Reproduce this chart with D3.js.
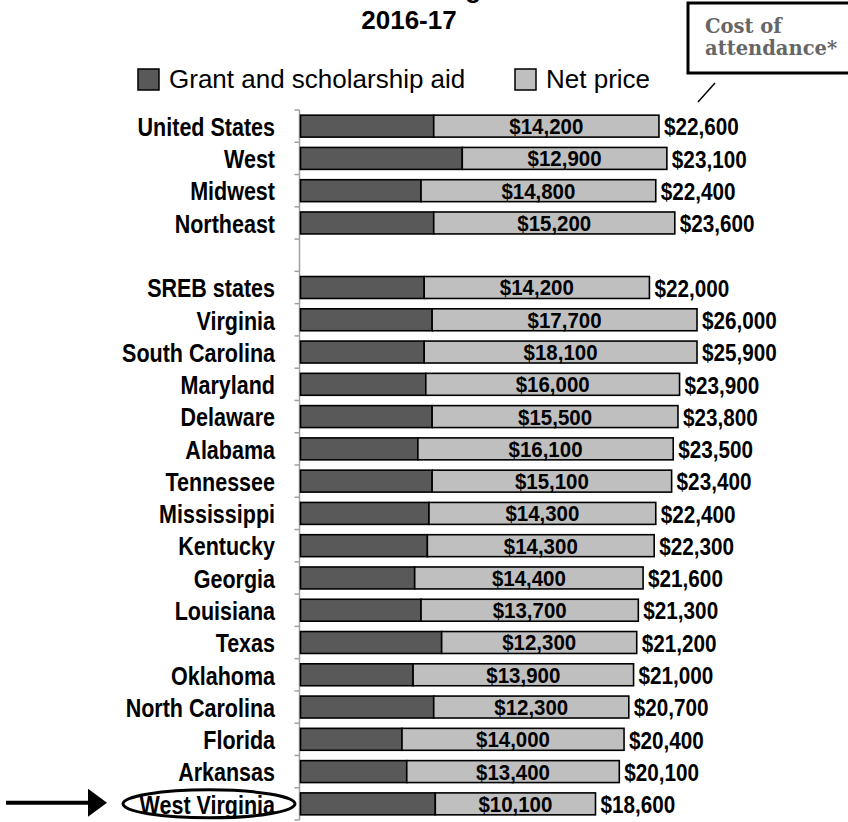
<!DOCTYPE html>
<html>
<head>
<meta charset="utf-8">
<script src="https://cdn.jsdelivr.net/npm/d3@7"></script>
<style>
  body { margin: 0; background: #fff; overflow: hidden; }
  svg { display: block; font-family: "Liberation Sans", Arial, sans-serif; }
</style>
</head>
<body>
<svg id="chart" width="848" height="822"></svg>
<script>
// empty string = the gap row between regions and SREB states
const categories = ["United States", "West", "Midwest", "Northeast", "",
  "SREB states", "Virginia", "South Carolina", "Maryland", "Delaware", "Alabama",
  "Tennessee", "Mississippi", "Kentucky", "Georgia", "Louisiana", "Texas",
  "Oklahoma", "North Carolina", "Florida", "Arkansas", "West Virginia"];

const grantAid = [8400, 10200, 7600, 8400, null,
  7800, 8300, 7800, 7900, 8300, 7400,
  8300, 8100, 8000, 7200, 7600, 8900,
  7100, 8400, 6400, 6700, 8500];

const netPrice = [14200, 12900, 14800, 15200, null,
  14200, 17700, 18100, 16000, 15500, 16100,
  15100, 14300, 14300, 14400, 13700, 12300,
  13900, 12300, 14000, 13400, 10100];

const costOfAttendance = [22600, 23100, 22400, 23600, null,
  22000, 26000, 25900, 23900, 23800, 23500,
  23400, 22400, 22300, 21600, 21300, 21200,
  21000, 20700, 20400, 20100, 18600];

const legendLabels = ["Grant and scholarship aid", "Net price"];
const titleLines = ["Net Price for Undergraduates", "2016-17"];
const calloutLines = ["Cost of", "attendance*"];
const highlighted = "West Virginia";

const darkFill = "#595959";
const lightFill = "#bfbfbf";

const svg = d3.select("#chart");
const money = d3.format("$,");

// squeeze text sideways, the reference uses a narrow face
function narrow(sel, factor) {
  sel.each(function() {
    const w = this.getComputedTextLength();
    d3.select(this)
      .attr("textLength", w * factor)
      .attr("lengthAdjust", "spacingAndGlyphs");
  });
}

const rows = categories.map(function(c, i) {
  return { name: c, grant: grantAid[i], net: netPrice[i], cost: costOfAttendance[i] };
});

const x = d3.scaleLinear()
  .domain([0, 25000])
  .range([300.5, 697])
  .clamp(true);

const y = d3.scaleBand()
  .domain(categories)
  .range([110, 820])
  .paddingInner(0.32)
  .paddingOuter(0.16);

const step = y.step();

// title (first line runs off the top of the picture)
svg.append("g")
  .attr("font-weight", "bold")
  .attr("font-size", 26)
  .attr("text-anchor", "middle")
  .selectAll("text")
  .data(titleLines)
  .join("text")
    .attr("x", 409)
    .attr("y", function(d, i) { return -2 + i * 31; })
    .text(function(d) { return d; });

// legend
const legend = svg.append("g").attr("font-size", 26);
const legendX = [138, 515];
legend.selectAll("rect")
  .data(legendLabels)
  .join("rect")
    .attr("x", function(d, i) { return legendX[i]; })
    .attr("y", 69)
    .attr("width", 21)
    .attr("height", 21)
    .attr("fill", function(d, i) { return i === 0 ? darkFill : lightFill; })
    .attr("stroke", "#000")
    .attr("stroke-width", 1.5);
legend.selectAll("text")
  .data(legendLabels)
  .join("text")
    .attr("x", function(d, i) { return legendX[i] + 31; })
    .attr("y", 88)
    .text(function(d) { return d; });

// callout box, open on the right where it leaves the picture
svg.append("path")
  .attr("d", "M860,3H688V73H860")
  .attr("fill", "#fff")
  .attr("stroke", "#000")
  .attr("stroke-width", 3);
svg.append("g")
  .attr("font-family", "'DejaVu Serif', serif")
  .attr("font-weight", "bold")
  .attr("font-size", 19.5)
  .attr("fill", "#666")
  .selectAll("text")
  .data(calloutLines)
  .join("text")
    .attr("x", 705)
    .attr("y", function(d, i) { return 33 + i * 22; })
    .text(function(d) { return d; });
svg.append("line")
  .attr("x1", 715).attr("y1", 83)
  .attr("x2", 698).attr("y2", 102)
  .attr("stroke", "#000")
  .attr("stroke-width", 1.5);

// axis line with ticks on the band boundaries
const axis = svg.append("g")
  .attr("stroke", "#a0a0a0")
  .attr("stroke-width", 1.5);
axis.append("line")
  .attr("x1", 299.5).attr("x2", 299.5)
  .attr("y1", y.range()[0]).attr("y2", y.range()[1]);
axis.selectAll(".tick")
  .data(d3.range(categories.length + 1))
  .join("line")
    .attr("class", "tick")
    .attr("x1", 294.5).attr("x2", 299.5)
    .attr("y1", function(i) { return y.range()[0] + i * step; })
    .attr("y2", function(i) { return y.range()[0] + i * step; });

// category labels
svg.append("g")
  .attr("font-weight", "bold")
  .attr("font-size", 25)
  .attr("text-anchor", "end")
  .selectAll("text")
  .data(rows.filter(function(d) { return d.name !== ""; }))
  .join("text")
    .attr("x", 275)
    .attr("y", function(d) { return y(d.name) + y.bandwidth() / 2; })
    .attr("dy", "0.39em")
    .text(function(d) { return d.name; })
    .call(narrow, 0.86);

const data = rows.filter(function(d) { return d.cost !== null; });

// bars
const bars = svg.append("g")
  .attr("stroke", "#000")
  .attr("stroke-width", 1.6);

bars.selectAll(".grant")
  .data(data)
  .join("rect")
    .attr("class", "grant")
    .attr("x", x(0))
    .attr("y", function(d) { return y(d.name); })
    .attr("width", function(d) { return x(d.grant) - x(0); })
    .attr("height", y.bandwidth())
    .attr("fill", darkFill);

bars.selectAll(".net")
  .data(data)
  .join("rect")
    .attr("class", "net")
    .attr("x", function(d) { return x(d.grant); })
    .attr("y", function(d) { return y(d.name); })
    .attr("width", function(d) { return x(d.grant + d.net) - x(d.grant); })
    .attr("height", y.bandwidth())
    .attr("fill", lightFill);

// net price labels inside the light segment
svg.append("g")
  .attr("font-weight", "bold")
  .attr("font-size", 22)
  .attr("text-anchor", "middle")
  .selectAll("text")
  .data(data)
  .join("text")
    .attr("x", function(d) { return (x(d.grant) + x(d.grant + d.net)) / 2; })
    .attr("y", function(d) { return y(d.name) + y.bandwidth() / 2; })
    .attr("dy", "0.36em")
    .text(function(d) { return money(d.net); })
    .call(narrow, 0.93);

// cost of attendance labels at the bar end
svg.append("g")
  .attr("font-weight", "bold")
  .attr("font-size", 23)
  .selectAll("text")
  .data(data)
  .join("text")
    .attr("x", function(d) { return x(d.cost) + 5; })
    .attr("y", function(d) { return y(d.name) + y.bandwidth() / 2; })
    .attr("dy", "0.4em")
    .text(function(d) { return money(d.cost); })
    .call(narrow, 0.9);

// highlight for West Virginia
const hy = y(highlighted) + y.bandwidth() / 2;
svg.append("ellipse")
  .attr("cx", 209)
  .attr("cy", hy)
  .attr("rx", 86)
  .attr("ry", 14)
  .attr("fill", "none")
  .attr("stroke", "#000")
  .attr("stroke-width", 3);
svg.append("line")
  .attr("x1", 6).attr("x2", 90)
  .attr("y1", hy - 1).attr("y2", hy - 1)
  .attr("stroke", "#000")
  .attr("stroke-width", 4);
svg.append("path")
  .attr("d", "M88," + (hy - 15) + "L107," + (hy - 1) + "L88," + (hy + 13) + "Z")
  .attr("fill", "#000");
</script>
</body>
</html>
